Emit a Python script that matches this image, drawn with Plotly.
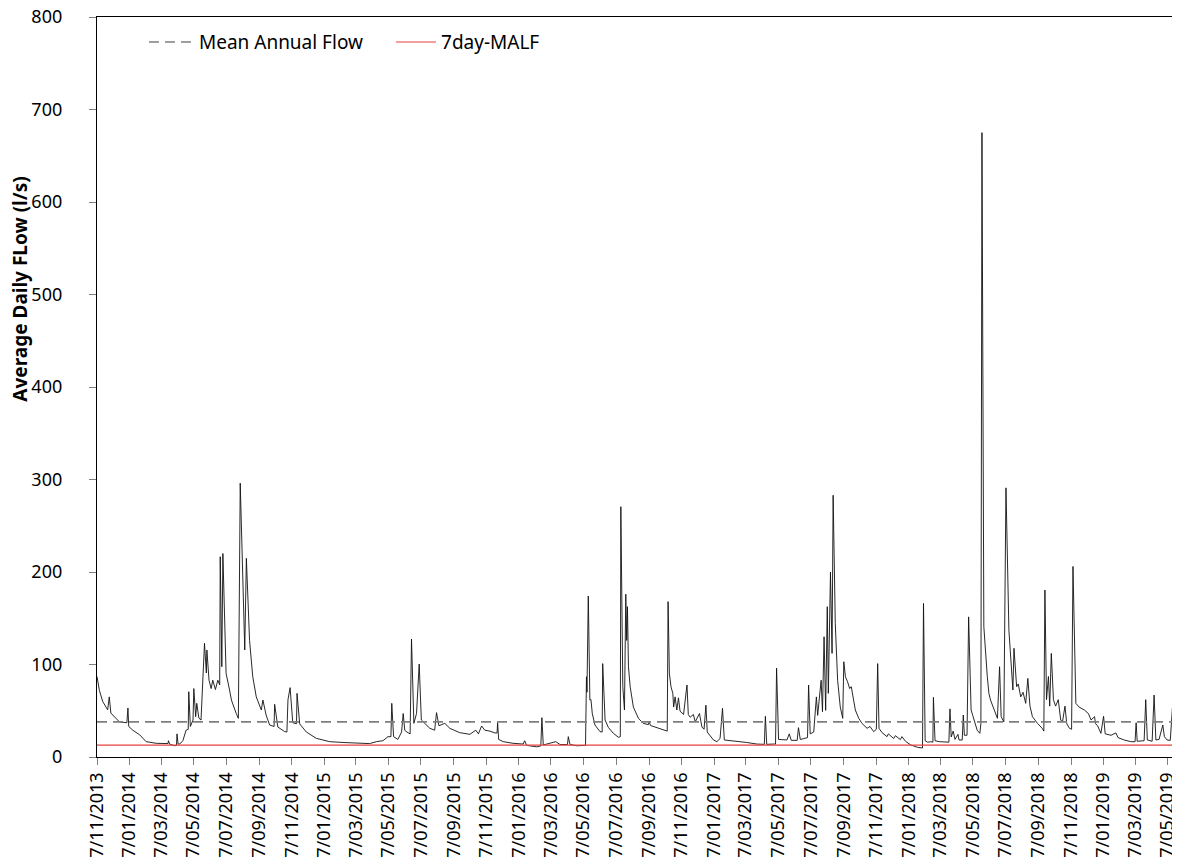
import pandas as pd
import plotly.graph_objects as go

# ---- data ----
series_start = "2013-11-07"
series_end = "2019-05-19"

# days since series_start, and average daily flow (l/s)
flow_days = [
    0, 4.5, 10.7, 20, 23, 26, 42, 56, 58, 59.5, 67, 80, 92, 111, 133, 134, 136, 145, 149, 150,
    152, 155, 161, 167, 171, 172, 175, 180, 181.5, 185, 187, 191, 195, 198, 201.5, 205, 206, 210,
    214, 217, 222, 226.5, 230, 231, 234, 236, 242, 248.5, 252, 261, 265, 268.5, 277, 280, 286,
    292, 298.6, 308, 311, 317, 323.6, 332, 333, 339, 352, 356, 358, 362, 367, 374, 375, 380,
    392.5, 411, 436, 461, 486, 511, 524, 536, 545.6, 551, 552.6, 556, 564, 571, 574, 577, 581,
    587, 589.6, 594, 599, 604, 608, 614.5, 624, 633, 636.5, 641, 652, 661.5, 680, 699, 710, 715,
    721, 727, 736.5, 746, 750, 751, 753, 761.5, 780, 799, 801.7, 805.4, 824, 832, 834, 836.6,
    860, 868, 882, 883.5, 886.7, 899, 915.8, 917.6, 918.5, 921, 924, 926, 928.5, 933.5, 943,
    947, 948, 952.5, 958.6, 968, 977.5, 981, 982, 985.7, 988.8, 991.3, 993, 994.4, 996.3, 999.5,
    1005.5, 1015, 1024, 1033.7, 1035, 1037.8, 1049.4, 1062, 1069, 1070.6, 1073, 1076, 1079.5,
    1081, 1083.7, 1087, 1090, 1093, 1099.6, 1106, 1108.5, 1112, 1118, 1121.5, 1129.4, 1134,
    1138, 1141.5, 1144, 1155.6, 1162, 1168, 1172.6, 1176, 1193, 1218, 1237, 1251, 1253, 1255.5,
    1268, 1272, 1274, 1277.7, 1293.4, 1297.7, 1301.5, 1312.6, 1315, 1318.4, 1324.5, 1332, 1334,
    1337, 1343.6, 1348.6, 1351, 1355, 1357.5, 1360, 1363, 1366, 1369, 1371, 1375, 1378, 1380,
    1384, 1388.4, 1393.4, 1398, 1400, 1403, 1407, 1411, 1414, 1418.5, 1421.6, 1428, 1434,
    1443.6, 1449, 1456, 1461, 1463.5, 1466, 1471.7, 1481, 1483.5, 1493.5, 1496.7, 1506, 1509,
    1515.6, 1525.5, 1538, 1547.5, 1549.4, 1552.5, 1557, 1563, 1567, 1568, 1571, 1579, 1591.5,
    1597, 1599, 1601.3, 1605, 1608.5, 1614, 1616, 1622, 1624, 1626, 1631, 1634, 1638.6, 1641.7,
    1650, 1655, 1657, 1659, 1662.5, 1669, 1672, 1675, 1681, 1688, 1692, 1695, 1700, 1704,
    1709.5, 1714, 1717, 1719, 1724, 1727, 1731.6, 1736, 1741, 1745, 1749, 1753.6, 1763, 1772,
    1775, 1777, 1780, 1783.6, 1786, 1789, 1793, 1797, 1802, 1806.6, 1810, 1814.6, 1818, 1823,
    1827, 1829.6, 1835, 1841, 1851, 1858.5, 1863.5, 1870, 1872, 1876, 1882, 1887, 1890, 1901,
    1910, 1914, 1925.6, 1938, 1946, 1948, 1950, 1963, 1966, 1969, 1978, 1981.7, 1985, 1991,
    1998, 2001, 2006, 2012, 2016, 2018,
]
flow_values = [
    87, 72, 60, 51, 65, 47.5, 38, 37, 53, 33, 29, 24, 16.6, 14.8, 14.5, 17.6, 14, 12.2, 12.5, 25,
    14, 14, 17.6, 29, 30, 70.6, 33, 40, 74, 43.6, 58, 42, 40, 79.6, 123, 90.8, 115.7, 83,
    74, 83, 73, 83, 78, 216.5, 97.6, 220, 90.5, 72.4, 61.6, 47, 41.8, 296, 115.7, 214.8, 126,
    86.8, 65, 50.8, 61.6, 45.4, 34.6, 33, 57, 32.4, 27.4, 27, 62, 75, 37, 36, 68.8, 35.8,
    27, 20.2, 16.6, 15.7, 14.8, 14.5, 16.6, 17.6, 22, 22, 58, 22, 19, 27, 47, 28.8, 27,
    25, 127.6, 36.4, 47, 100.5, 40, 36, 31, 29, 48, 33.8, 36.4, 31, 26.3, 24.5, 29, 25,
    33.5, 29, 28, 26, 26, 37, 19, 16.6, 14.8, 14, 17.6, 12.6, 11, 12, 42.5, 13,
    16.6, 13.5, 13.5, 22, 13.5, 12.2, 12.5, 86.8, 70, 174, 61.6, 62, 47, 34.6, 27.4,
    27, 101, 40, 32, 25.6, 21.3, 22, 270.6, 76, 50.8, 176, 126, 162.5, 97.6, 76,
    54, 41.8, 36.4, 35, 38, 34, 32, 29, 28, 168, 90.5, 76, 68.8,
    54, 65, 50.8, 64, 49.6, 46, 77.8, 46, 43, 46, 38, 47, 32.4,
    30, 56, 27, 18.4, 16.6, 20, 52.6, 18.4, 17.6, 15.7, 14, 13.7, 44, 13.7,
    14, 14, 96, 19, 18.4, 25, 18, 18, 31.7, 19, 19.8, 21, 77.8,
    25, 27, 65, 45, 68.8, 83, 49, 130, 50.4, 162.5, 68.8, 200, 112, 283,
    144.5, 83, 54, 41.8, 103, 86.8, 81.4, 74, 76, 63.4, 50.8, 41.8, 36.4,
    31, 33, 27.4, 30, 101, 31, 26.3, 22, 25, 20, 23, 18.8, 22,
    17, 13, 10.5, 9.7, 166, 17.6, 16, 16.5, 16, 64.5, 17.6, 16.6, 15.7,
    16, 52, 21.7, 28, 19, 24.5, 18.4, 18.4, 45.4, 23.5, 23.5, 151.5, 50.8, 45,
    29, 25.6, 36, 675, 141, 86.8, 68.8, 61.6, 52.6, 41.8, 97.6, 43.6, 38, 291,
    137, 90.5, 72.4, 117.5, 76, 79, 65, 70, 58, 85, 55, 43.6, 36.4, 31,
    28, 180.5, 62, 87, 55, 112, 62, 55, 62, 40, 38, 55, 36, 31,
    30, 206, 58, 54, 50.8, 47, 40, 43.6, 36, 33.5, 25.6, 44, 25, 23.5,
    26, 21, 18.4, 16.6, 16.5, 37, 17, 17.6, 62, 18.4, 17, 67, 18.4, 19,
    34.6, 22, 18.4, 18, 52.6, 25.6,
]

mean_annual_flow = 38.0
malf_7day = 12.8

tick_dates = [
    "2013-11-07", "2014-01-07", "2014-03-07", "2014-05-07", "2014-07-07", "2014-09-07",
    "2014-11-07", "2015-01-07", "2015-03-07", "2015-05-07", "2015-07-07", "2015-09-07",
    "2015-11-07", "2016-01-07", "2016-03-07", "2016-05-07", "2016-07-07", "2016-09-07",
    "2016-11-07", "2017-01-07", "2017-03-07", "2017-05-07", "2017-07-07", "2017-09-07",
    "2017-11-07", "2018-01-07", "2018-03-07", "2018-05-07", "2018-07-07", "2018-09-07",
    "2018-11-07", "2019-01-07", "2019-03-07", "2019-05-07",
]
tick_labels = [
    "7/11/2013", "7/01/2014", "7/03/2014", "7/05/2014", "7/07/2014", "7/09/2014",
    "7/11/2014", "7/01/2015", "7/03/2015", "7/05/2015", "7/07/2015", "7/09/2015",
    "7/11/2015", "7/01/2016", "7/03/2016", "7/05/2016", "7/07/2016", "7/09/2016",
    "7/11/2016", "7/01/2017", "7/03/2017", "7/05/2017", "7/07/2017", "7/09/2017",
    "7/11/2017", "7/01/2018", "7/03/2018", "7/05/2018", "7/07/2018", "7/09/2018",
    "7/11/2018", "7/01/2019", "7/03/2019", "7/05/2019",
]

y_title = "Average Daily FLow (l/s)"

# ---- figure ----
start = pd.Timestamp(series_start)
flow_dates = start + pd.to_timedelta(flow_days, unit="D")
FONT = "Noto Sans"

fig = go.Figure()
fig.add_trace(go.Scatter(
    x=flow_dates, y=flow_values, mode="lines",
    line=dict(color="#111111", width=0.9), showlegend=False, name="Flow",
))
fig.add_trace(go.Scatter(
    x=[series_start, series_end], y=[mean_annual_flow, mean_annual_flow], mode="lines",
    line=dict(color="#7f7f7f", width=1.6, dash="10px,6px"),
    name="Mean Annual Flow", legend="legend",
))
fig.add_trace(go.Scatter(
    x=[series_start, series_end], y=[malf_7day, malf_7day], mode="lines",
    line=dict(color="#e8413c", width=1.1),
    name="7day-MALF", legend="legend2",
))

# the page body adds an 8px offset, so the figure is sized to fit the window
fig.update_layout(
    width=1172, height=853,
    margin=dict(l=89, r=6, t=9, b=104, autoexpand=False),
    paper_bgcolor="white", plot_bgcolor="white",
    font=dict(family=FONT, size=19, color="#000000"),
    legend=dict(x=0.0436, y=0.966, xanchor="left", yanchor="middle", itemwidth=45,
                bgcolor="rgba(0,0,0,0)", font=dict(size=19), borderwidth=0),
    legend2=dict(x=0.273, y=0.966, xanchor="left", yanchor="middle", itemwidth=40,
                 bgcolor="rgba(0,0,0,0)", font=dict(size=19), borderwidth=0),
    annotations=[dict(
        text="<b>" + y_title + "</b>", textangle=-90, showarrow=False,
        xref="paper", yref="paper", x=-0.0712, y=0.632,
        xanchor="center", yanchor="middle", font=dict(size=19, family=FONT),
    )],
)
fig.update_xaxes(
    type="date", range=[series_start, series_end], automargin=False,
    tickmode="array", tickvals=tick_dates, ticktext=tick_labels, tickangle=-90,
    ticks="outside", ticklen=7, tickcolor="#808080", tickwidth=1,
    showline=True, linecolor="#000000", linewidth=1.3, mirror=True,
    showgrid=False, zeroline=False, tickfont=dict(size=18),
)
fig.update_yaxes(
    range=[0, 800], dtick=100, tick0=0, automargin=False,
    ticks="outside", ticklen=7, tickcolor="#808080", tickwidth=1,
    showline=True, linecolor="#000000", linewidth=1.3, mirror=True,
    showgrid=False, zeroline=False, tickfont=dict(size=18), ticklabelstandoff=23,
    ticklabeloverflow="allow",
)

fig.write_html("out.html")
